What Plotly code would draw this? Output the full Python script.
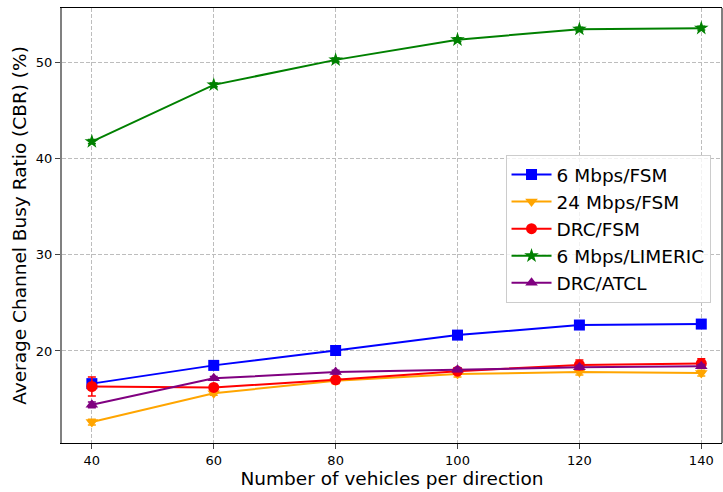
import plotly.graph_objects as go

vehicles = [40, 60, 80, 100, 120, 140]

series_names = ["6 Mbps/FSM", "24 Mbps/FSM", "DRC/FSM", "6 Mbps/LIMERIC", "DRC/ATCL"]
cbr_6fsm = [16.6, 18.5, 20.05, 21.65, 22.7, 22.8]
cbr_24fsm = [12.6, 15.6, 16.9, 17.6, 17.8, 17.7]
cbr_drcfsm = [16.3, 16.2, 17.0, 17.9, 18.55, 18.7]
cbr_limeric = [41.8, 47.7, 50.3, 52.4, 53.5, 53.6]
cbr_drcatcl = [14.4, 17.15, 17.8, 18.05, 18.3, 18.4]

err_6fsm = [0.3, 0.2, 0.2, 0.2, 0.2, 0.2]
err_24fsm = [0.3, 0.2, 0.3, 0.3, 0.3, 0.3]
err_drcfsm = [1.0, 0.3, 0.3, 0.3, 0.5, 0.5]
err_limeric = [0.2, 0.2, 0.2, 0.2, 0.2, 0.2]
err_drcatcl = [0.3, 0.2, 0.2, 0.2, 0.2, 0.2]

values = [cbr_6fsm, cbr_24fsm, cbr_drcfsm, cbr_limeric, cbr_drcatcl]
errors = [err_6fsm, err_24fsm, err_drcfsm, err_limeric, err_drcatcl]
colors = ["blue", "orange", "red", "green", "purple"]
symbols = ["square", "triangle-down", "circle", "star", "triangle-up"]

fig = go.Figure()
for name, y, e, c, s in zip(series_names, values, errors, colors, symbols):
    fig.add_trace(go.Scatter(
        x=vehicles, y=y, name=name, mode="lines+markers",
        line=dict(color=c, width=2),
        marker=dict(symbol=s, size=11, color=c),
        error_y=dict(type="data", array=e, visible=True, color=c, thickness=1.5, width=4),
    ))

font = "DejaVu Sans, Verdana, sans-serif"
fig.update_layout(
    width=723, height=492,
    margin=dict(l=62, r=1, t=8, b=49),
    paper_bgcolor="white", plot_bgcolor="white",
    font=dict(family=font, color="black"),
    showlegend=True,
    legend=dict(
        x=0.672, y=0.662, xanchor="left", yanchor="top",
        font=dict(size=18.5, family=font),
        bgcolor="rgba(255,255,255,0.8)", bordercolor="#cccccc", borderwidth=1,
        itemwidth=40, tracegroupgap=0,
    ),
    xaxis=dict(
        range=[35.1, 143.4], tickvals=vehicles, ticks="outside", ticklen=5,
        tickfont=dict(size=13), showline=True, linecolor="black", linewidth=1, mirror=True,
        showgrid=True, gridcolor="#bdbdbd", griddash="4px,2px", gridwidth=1, zeroline=False,
        automargin=False,
        title=dict(text="Number of vehicles per direction", font=dict(size=18.5), standoff=4),
    ),
    yaxis=dict(
        range=[10.42, 55.7], tickvals=[20, 30, 40, 50], ticks="outside", ticklen=5,
        tickfont=dict(size=13), showline=True, linecolor="#808080", linewidth=2,
        showgrid=True, gridcolor="#bdbdbd", griddash="4px,2px", gridwidth=1, zeroline=False,
        automargin=False,
        title=dict(text="Average Channel Busy Ratio (CBR) (%)", font=dict(size=18.5), standoff=4),
    ),
    shapes=[dict(type="line", xref="paper", yref="paper", x0=1, x1=1, y0=0, y1=1,
                 line=dict(color="black", width=1))],
)

fig.write_html("out.html", config={"displayModeBar": False},
               post_script="document.body.style.margin='0px';document.body.style.overflow='hidden';")
